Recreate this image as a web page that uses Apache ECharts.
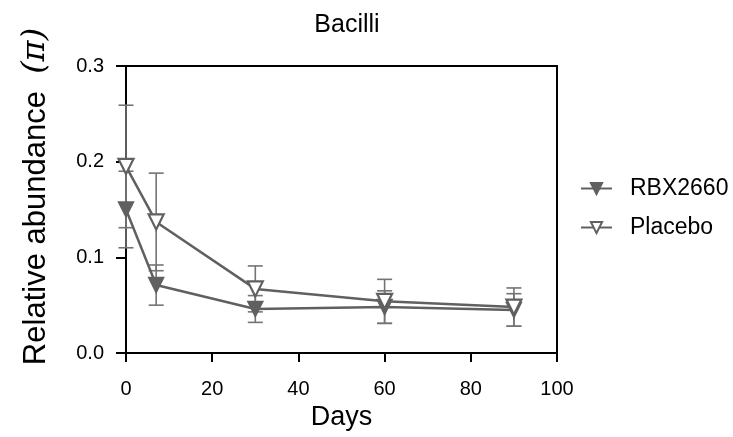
<!DOCTYPE html>
<html><head><meta charset="utf-8">
<script src="https://cdn.jsdelivr.net/npm/echarts@6/dist/echarts.min.js"></script>
<style>html,body{margin:0;padding:0;background:#fff}#c{width:733px;height:437px}</style>
</head><body><div id="c"></div>
<script>
var days = [0, 7, 30, 60, 90];
var rbxMean = [0.150, 0.071, 0.046, 0.048, 0.045];
var rbxErr  = [0.040, 0.021, 0.014, 0.017, 0.017];
var plcMean = [0.195, 0.137, 0.067, 0.054, 0.048];
var plcErr  = [0.064, 0.051, 0.024, 0.023, 0.020];
var xTicks = [0, 20, 40, 60, 80, 100];
var yTicks = [0.0, 0.1, 0.2, 0.3];

var gray = '#606060';
var errGray = '#747474';
var FONT = 'Liberation Sans, Arial, sans-serif';

function pairs(m){ return days.map(function(d,i){return [d, m[i]];}); }
function errData(m,e){ return days.map(function(d,i){return [d, m[i]-e[i], m[i]+e[i]];}); }

function errRender(params, api){
  var x = api.value(0);
  var lo = api.coord([x, api.value(1)]);
  var hi = api.coord([x, api.value(2)]);
  var hw = 7.5;
  var st = {stroke: errGray, lineWidth: 1.6};
  return {type:'group', children:[
    {type:'line', shape:{x1:lo[0],y1:lo[1],x2:hi[0],y2:hi[1]}, style:st},
    {type:'line', shape:{x1:lo[0]-hw,y1:lo[1],x2:lo[0]+hw,y2:lo[1]}, style:st},
    {type:'line', shape:{x1:hi[0]-hw,y1:hi[1],x2:hi[0]+hw,y2:hi[1]}, style:st}
  ]};
}

var chart = echarts.init(document.getElementById('c'));
chart.setOption({
  animation:false,
  backgroundColor:'#fff',
  textStyle:{fontFamily:FONT},
  title:{text:'Bacilli', left:342, top:8, textAlign:'center',
    textStyle:{fontSize:25, fontWeight:'normal', color:'#000', fontFamily:FONT}},
  grid:{left:126, right:176, top:66, bottom:84, show:true, borderColor:'#000', borderWidth:2, backgroundColor:'transparent'},
  legend:{orient:'vertical', left:575, top:172, itemGap:16, itemWidth:31, itemHeight:14,
    textStyle:{fontSize:23, color:'#000', fontFamily:FONT, padding:[0,0,0,13]},
    data:['RBX2660','Placebo']},
  xAxis:{type:'value', min:0, max:100, interval:20,
    axisLine:{onZero:false, lineStyle:{color:'#000', width:2}},
    axisTick:{show:true, length:9, lineStyle:{color:'#000', width:2}},
    axisLabel:{fontSize:20, color:'#000', margin:26, fontFamily:FONT, formatter:function(v){return xTicks.indexOf(v)>=0?String(v):'';}},
    splitLine:{show:false},
    name:'Days', nameLocation:'middle', nameGap:32, nameTextStyle:{fontSize:27, color:'#000', fontFamily:FONT}},
  yAxis:{type:'value', min:0, max:0.3, interval:0.1,
    axisLine:{show:true, lineStyle:{color:'#000', width:2}},
    axisTick:{show:true, length:10, lineStyle:{color:'#000', width:2}},
    axisLabel:{fontSize:20, color:'#000', margin:22, fontFamily:FONT, formatter:function(v){return yTicks.indexOf(+v.toFixed(1))>=0 ? v.toFixed(1) : '';}},
    splitLine:{show:false},
    name:'Relative abundance  {p|(\u03c0)}', nameLocation:'middle', nameGap:74, nameRotate:90,
    nameTextStyle:{fontSize:31, color:'#000', fontFamily:FONT, padding:[0,0,0,26],
      rich:{p:{fontSize:32, fontFamily:'DejaVu Serif, serif', fontStyle:'italic', color:'#000'}}}},
  series:[
    {name:'RBX2660 err', type:'custom', renderItem:errRender, data:errData(rbxMean,rbxErr), z:1, encode:{x:0,y:[1,2]}, silent:true},
    {name:'Placebo err', type:'custom', renderItem:errRender, data:errData(plcMean,plcErr), z:1, encode:{x:0,y:[1,2]}, silent:true},
    {name:'RBX2660', type:'line', data:pairs(rbxMean), symbol:'triangle', symbolRotate:180, symbolSize:15,
      lineStyle:{color:gray, width:2.5}, itemStyle:{color:gray, borderColor:gray, borderWidth:1.5}, z:3},
    {name:'Placebo', type:'line', data:pairs(plcMean), symbol:'triangle', symbolRotate:180, symbolSize:15,
      lineStyle:{color:gray, width:2.5}, itemStyle:{color:'#fff', borderColor:gray, borderWidth:2.2}, z:3}
  ]
});
</script></body></html>
